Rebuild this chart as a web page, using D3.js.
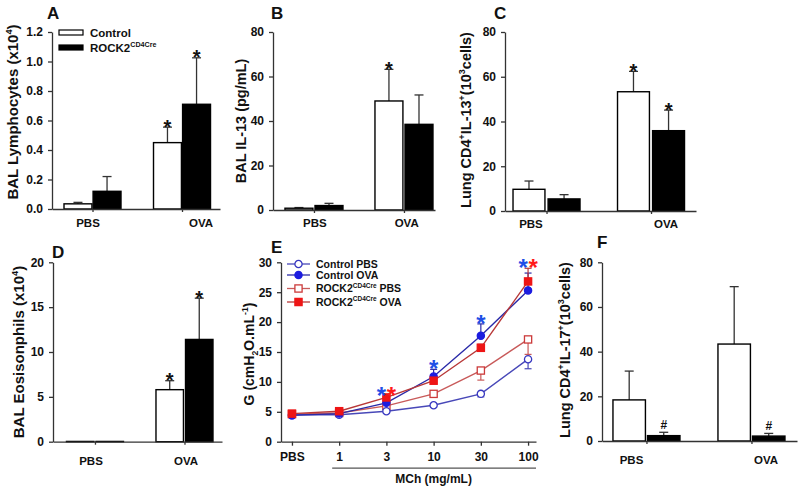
<!DOCTYPE html>
<html><head><meta charset="utf-8">
<script src="https://cdn.jsdelivr.net/npm/d3@7"></script>
<style>
body{margin:0;background:#fff}
svg{display:block}
text{font-family:"Liberation Sans",Arial,sans-serif;font-weight:bold;fill:#111}
</style>
</head><body>
<script>
// ================= DATA =================
const categories = ["PBS", "OVA"];
const groups = ["Control", "ROCK2"];

// A: BAL lymphocytes (x10^4)
const lymphControl = [0.035, 0.45];
const lymphControlErr = [0.01, 0.105];
const lymphRock = [0.12, 0.71];
const lymphRockErr = [0.10, 0.315];
const lymphControlSig = ["", "*"];
const lymphRockSig = ["", "*"];
const lymphTicks = [0, 0.2, 0.4, 0.6, 0.8, 1.0, 1.2];

// B: BAL IL-13 (pg/mL)
const il13Control = [0.8, 49.0];
const il13ControlErr = [0.3, 14.2];
const il13Rock = [2.0, 38.5];
const il13RockErr = [1.0, 13.2];
const il13ControlSig = ["", "*"];
const il13RockSig = ["", ""];
const il13Ticks = [0, 20, 40, 60, 80];

// C: Lung CD4+IL-13+ (10^3 cells)
const cd4il13Control = [9.7, 53.3];
const cd4il13ControlErr = [3.7, 9.1];
const cd4il13Rock = [5.4, 35.9];
const cd4il13RockErr = [1.9, 9.2];
const cd4il13ControlSig = ["", "*"];
const cd4il13RockSig = ["", "*"];
const cd4il13Ticks = [0, 20, 40, 60, 80];

// D: BAL eosinophils (x10^4)
const eosControl = [0.03, 5.8];
const eosControlErr = [0, 1.0];
const eosRock = [0.03, 11.4];
const eosRockErr = [0, 4.6];
const eosControlSig = ["", "*"];
const eosRockSig = ["", "*"];
const eosTicks = [0, 5, 10, 15, 20];

// E: airway resistance G vs MCh dose
const doses = ["PBS", "1", "3", "10", "30", "100"];
const gTicks = [0, 5, 10, 15, 20, 25, 30];
const gControlPBS = [4.5, 4.5, 5.1, 6.1, 8.0, 13.8];
const gControlPBSErr = [0.2, 0.2, 0.3, 0.3, 0.5, 1.6];
const gControlOVA = [4.4, 4.7, 6.5, 10.9, 17.7, 25.3];
const gControlOVAErr = [0.2, 0.2, 0.4, 1.2, 2.0, 2.9];
const gRockPBS = [4.6, 4.8, 6.0, 8.0, 11.9, 17.1];
const gRockPBSErr = [0.2, 0.2, 0.3, 0.4, 1.6, 2.5];
const gRockOVA = [4.7, 5.1, 7.4, 10.2, 15.7, 26.8];
const gRockOVAErr = [0.2, 0.2, 0.3, 0.4, 0.6, 2.2];
const gBlueSig = ["", "", "*", "*", "*", "*"];
const gRedSig = ["", "", "*", "", "", "*"];

// F: Lung CD4+IL-17+ (10^3 cells)
const il17Control = [18.4, 43.4];
const il17ControlErr = [12.9, 25.7];
const il17Rock = [2.4, 2.2];
const il17RockErr = [1.5, 1.2];
const il17ControlSig = ["", ""];
const il17RockSig = ["#", "#"];
const il17Ticks = [0, 20, 40, 60, 80];

// ================= DRAWING =================
const svg = d3.select("body").append("svg").attr("width", 800).attr("height", 490);
const AX = "#333";

function rich(sel, parts, fs) {
  let shift = 0;
  parts.forEach(([t, k]) => {
    const target = k === "sup" ? -fs * 0.42 : k === "sub" ? fs * 0.28 : 0;
    const ts = sel.append("tspan").attr("dy", target - shift).text(t);
    if (k) ts.attr("font-size", fs * 0.62);
    shift = target;
  });
}

function yTitle(parts, x, y, fs) {
  const t = svg.append("text").attr("transform", `translate(${x},${y}) rotate(-90)`)
    .attr("text-anchor", "middle").attr("font-size", fs);
  rich(t, parts, fs);
}

function letter(l, x, y) {
  svg.append("text").attr("x", x).attr("y", y).attr("font-size", 17).text(l);
}

function styleAxis(g) {
  g.selectAll(".domain").attr("stroke", AX).attr("stroke-width", 1.3);
  g.selectAll(".tick line").attr("stroke", AX).attr("stroke-width", 1.3);
  g.selectAll(".tick text").attr("font-size", 12).attr("fill", "#111")
    .attr("font-family", '"Liberation Sans",Arial,sans-serif').attr("font-weight", "bold");
}

function barPanel(cfg, control, controlErr, controlSig, rock, rockErr, rockSig, ticks) {
  const x = d3.scalePoint().domain(categories).range([cfg.x0, cfg.x1]).padding(cfg.pad).align(cfg.align);
  const xl = d3.scalePoint().domain(categories).range([cfg.x0, cfg.x1]).padding(cfg.labPad).align(cfg.labAlign);
  const sub = d3.scaleBand().domain(groups).range([-cfg.gw / 2, cfg.gw / 2]).paddingInner(cfg.inner);
  const y = d3.scaleLinear().domain([0, ticks[ticks.length - 1]]).range([cfg.yBot, cfg.yTop]);
  const rows = [];
  categories.forEach((c, i) => {
    rows.push({ c, g: "Control", v: control[i], e: controlErr[i], s: controlSig[i] });
    rows.push({ c, g: "ROCK2", v: rock[i], e: rockErr[i], s: rockSig[i] });
  });
  const g = svg.append("g");
  const cx = d => x(d.c) + sub(d.g) + sub.bandwidth() / 2;
  // error bars
  const eb = g.selectAll(".eb").data(rows.filter(d => d.e > 0)).join("g");
  eb.append("line").attr("x1", cx).attr("x2", cx).attr("y1", d => y(d.v)).attr("y2", d => y(d.v + d.e))
    .attr("stroke", "#333").attr("stroke-width", 1.3);
  eb.append("line").attr("x1", d => cx(d) - 4.5).attr("x2", d => cx(d) + 4.5)
    .attr("y1", d => y(d.v + d.e)).attr("y2", d => y(d.v + d.e)).attr("stroke", "#333").attr("stroke-width", 1.3);
  // bars
  g.selectAll(".bar").data(rows).join("rect")
    .attr("x", d => x(d.c) + sub(d.g)).attr("width", sub.bandwidth())
    .attr("y", d => y(d.v)).attr("height", d => y(0) - y(d.v))
    .attr("fill", d => d.g === "Control" ? "#fff" : "#000")
    .attr("stroke", "#000").attr("stroke-width", 1.4);
  // significance
  g.selectAll(".sig").data(rows.filter(d => d.s)).join("text")
    .attr("x", cx).attr("text-anchor", "middle")
    .attr("y", d => d.s === "#" ? y(d.v + d.e) - 3.5 : y(d.v + d.e) + 6.5)
    .attr("font-size", d => d.s === "#" ? 12 : 20)
    .attr("font-weight", d => d.s === "#" ? "normal" : "bold")
    .text(d => d.s);
  // axes
  const ya = g.append("g").attr("transform", `translate(${cfg.x0},0)`)
    .call(d3.axisLeft(y).tickValues(ticks).tickSize(4).tickSizeOuter(0).tickPadding(5).tickFormat(cfg.fmt));
  styleAxis(ya);
  const xa = g.append("g").attr("transform", `translate(0,${cfg.yBot})`)
    .call(d3.axisBottom(x).tickSize(3).tickSizeOuter(0).tickFormat(""));
  styleAxis(xa);
  g.selectAll(".cat").data(categories).join("text")
    .attr("x", d => xl(d)).attr("y", cfg.yBot + cfg.labDy).attr("text-anchor", "middle")
    .attr("font-size", 11.5).text(d => d);
}

// ---- Panel A ----
barPanel({ x0: 52, x1: 220, yTop: 32, yBot: 209, pad: 0.4385, align: 0.516, labPad: 0.2434, labAlign: 0.6545,
  gw: 57, inner: 0.04, fmt: d3.format(".1f"), labDy: 17.5 },
  lymphControl, lymphControlErr, lymphControlSig, lymphRock, lymphRockErr, lymphRockSig, lymphTicks);
yTitle([["BAL Lymphocytes (x10"], ["4", "sup"], [")"]], 18, 112, 15);
letter("A", 47, 19);
// legend A
const legA = svg.append("g");
legA.selectAll("rect").data(groups).join("rect")
  .attr("x", 59).attr("y", (d, i) => 30 + i * 15).attr("width", 24).attr("height", 5)
  .attr("fill", (d, i) => i ? "#000" : "#fff").attr("stroke", "#000").attr("stroke-width", 1.2);
const lt0 = legA.append("text").attr("x", 90).attr("y", 36.5).attr("font-size", 11.5);
rich(lt0, [["Control"]], 11.5);
const lt1 = legA.append("text").attr("x", 90).attr("y", 51.5).attr("font-size", 11.5);
rich(lt1, [["ROCK2"], ["CD4Cre", "sup"]], 11.5);

// ---- Panel B ----
barPanel({ x0: 273, x1: 435, yTop: 32, yBot: 210, pad: 0.4, align: 0.569, labPad: 0.383, labAlign: 0.597,
  gw: 58, inner: 0.07, fmt: d3.format("d"), labDy: 16.5 },
  il13Control, il13ControlErr, il13ControlSig, il13Rock, il13RockErr, il13RockSig, il13Ticks);
yTitle([["BAL IL-13 (pg/mL)"]], 246, 121, 14.5);
letter("B", 271, 19);

// ---- Panel C ----
barPanel({ x0: 505, x1: 696, yTop: 32, yBot: 211, pad: 0.4139, align: 0.48, labPad: 0.2074, labAlign: 0.464,
  gw: 67, inner: 0.09, fmt: d3.format("d"), labDy: 16.5 },
  cd4il13Control, cd4il13ControlErr, cd4il13ControlSig, cd4il13Rock, cd4il13RockErr, cd4il13RockSig, cd4il13Ticks);
yTitle([["Lung CD4"], ["+", "sup"], ["IL-13"], ["+", "sup"], ["(10"], ["3", "sup"], ["cells)"]], 471, 120, 14.5);
letter("C", 494, 19);

// ---- Panel D ----
barPanel({ x0: 53, x1: 222, yTop: 262.3, yBot: 441.7, pad: 0.444, align: 0.528, labPad: 0.3895, labAlign: 0.5135,
  gw: 57, inner: 0.07, fmt: d3.format("d"), labDy: 23 },
  eosControl, eosControlErr, eosControlSig, eosRock, eosRockErr, eosRockSig, eosTicks);
yTitle([["BAL Eosisonphils (x10"], ["4", "sup"], [")"]], 24, 352, 15);
letter("D", 52, 258);

// ---- Panel F ----
barPanel({ x0: 602, x1: 797, yTop: 262.3, yBot: 441, pad: 0.4286, align: 0.494, labPad: 0.2249, labAlign: 0.4876,
  gw: 67, inner: 0.06, fmt: d3.format("d"), labDy: 23 },
  il17Control, il17ControlErr, il17ControlSig, il17Rock, il17RockErr, il17RockSig, il17Ticks);
yTitle([["Lung CD4"], ["+", "sup"], ["IL-17"], ["+", "sup"], ["(10"], ["3", "sup"], ["cells)"]], 570, 350, 14.5);
letter("F", 597, 248);

// ---- Panel E ----
(function () {
  const x0 = 281, x1 = 536, yTop = 262.3, yBot = 441.7;
  const x = d3.scalePoint().domain(doses).range([x0, x1]).padding(0.2).align(0.58);
  const y = d3.scaleLinear().domain([0, 30]).range([yBot, yTop]);
  const series = [
    { name: [["ROCK2"], ["CD4Cre", "sup"], [" PBS"]], v: gRockPBS, e: gRockPBSErr, dir: -1, line: "#c85a5a", mk: "#cc3a3a", fill: "#fff", shape: "sq" },
    { name: [["Control PBS"]], v: gControlPBS, e: gControlPBSErr, dir: -1, line: "#4848b8", mk: "#3636c0", fill: "#fff", shape: "ci" },
    { name: [["Control OVA"]], v: gControlOVA, e: gControlOVAErr, dir: 1, line: "#2a2aa8", mk: "#1c1ce0", fill: "#1c1ce0", shape: "ci" },
    { name: [["ROCK2"], ["CD4Cre", "sup"], [" OVA"]], v: gRockOVA, e: gRockOVAErr, dir: 1, line: "#b83838", mk: "#ee1515", fill: "#ee1515", shape: "sq" }
  ];
  const g = svg.append("g");
  const line = d3.line().x((d, i) => x(doses[i])).y(d => y(d));
  series.forEach(s => {
    g.append("path").attr("d", line(s.v)).attr("fill", "none").attr("stroke", s.line).attr("stroke-width", 1.4);
  });
  series.forEach(s => {
    const pts = s.v.map((v, i) => ({ v, e: s.e[i], d: doses[i] }));
    const eg = g.append("g").selectAll("g").data(pts).join("g");
    eg.append("line").attr("x1", d => x(d.d)).attr("x2", d => x(d.d))
      .attr("y1", d => y(d.v)).attr("y2", d => y(d.v + s.dir * d.e)).attr("stroke", s.line).attr("stroke-width", 1.2);
    eg.append("line").attr("x1", d => x(d.d) - 3.5).attr("x2", d => x(d.d) + 3.5)
      .attr("y1", d => y(d.v + s.dir * d.e)).attr("y2", d => y(d.v + s.dir * d.e)).attr("stroke", s.line).attr("stroke-width", 1.2);
  });
  function marker(sel, s) {
    if (s.shape === "ci") sel.append("circle").attr("r", 3.6).attr("fill", s.fill).attr("stroke", s.mk).attr("stroke-width", 1.3);
    else sel.append("rect").attr("x", -3.6).attr("y", -3.6).attr("width", 7.2).attr("height", 7.2)
      .attr("fill", s.fill).attr("stroke", s.mk).attr("stroke-width", 1.3);
  }
  series.forEach(s => {
    g.append("g").selectAll("g").data(s.v).join("g")
      .attr("transform", (d, i) => `translate(${x(doses[i])},${y(d)})`)
      .each(function () { marker(d3.select(this), s); });
  });
  // significance asterisks above highest error bar
  const tops = doses.map((d, i) => Math.max(gControlOVA[i] + gControlOVAErr[i], gRockOVA[i] + gRockOVAErr[i],
    gControlPBS[i], gRockPBS[i]));
  doses.forEach((d, i) => {
    const both = gBlueSig[i] && gRedSig[i];
    if (gBlueSig[i]) g.append("text").attr("x", x(d) - (both ? 5 : 0)).attr("y", y(tops[i]) + 8)
      .attr("text-anchor", "middle").attr("font-size", 24).attr("font-weight", "normal").style("fill", "#1f4fe6").text("*");
    if (gRedSig[i]) g.append("text").attr("x", x(d) + (both ? 5 : 0)).attr("y", y(tops[i]) + 8)
      .attr("text-anchor", "middle").attr("font-size", 24).attr("font-weight", "normal").style("fill", "#ff1a1a").text("*");
  });
  // axes
  const ya = g.append("g").attr("transform", `translate(${x0},0)`)
    .call(d3.axisLeft(y).tickValues(gTicks).tickSize(4).tickSizeOuter(0).tickPadding(5).tickFormat(d3.format("d")));
  styleAxis(ya);
  const xa = g.append("g").attr("transform", `translate(0,${yBot})`)
    .call(d3.axisBottom(x).tickSize(4).tickSizeOuter(0).tickPadding(7));
  styleAxis(xa);
  // MCh underline + title
  g.append("line").attr("x1", x("1") - 7).attr("x2", x1).attr("y1", yBot + 26.5).attr("y2", yBot + 26.5)
    .attr("stroke", "#555").attr("stroke-width", 1.2);
  g.append("text").attr("x", x("10")).attr("y", yBot + 41).attr("text-anchor", "middle").attr("font-size", 12).text("MCh (mg/mL)");
  // legend
  const legY = [264, 275, 288.5, 302];
  const legOrder = [series[1], series[2], series[0], series[3]];
  legOrder.forEach((s, i) => {
    const lg = g.append("g").attr("transform", `translate(0,${legY[i]})`);
    lg.append("line").attr("x1", 287).attr("x2", 310).attr("stroke", s.line).attr("stroke-width", 1.3);
    marker(lg.append("g").attr("transform", "translate(298.5,0)"), s);
    const t = lg.append("text").attr("x", 316).attr("y", 3.6).attr("font-size", 10.5);
    rich(t, s.name, 10.5);
  });
  yTitle([["G (cmH"], ["2", "sub"], ["O.mL"], ["-1", "sup"], [")"]], 254, 354, 14);
  letter("E", 271, 253);
})();
</script>
</body></html>
